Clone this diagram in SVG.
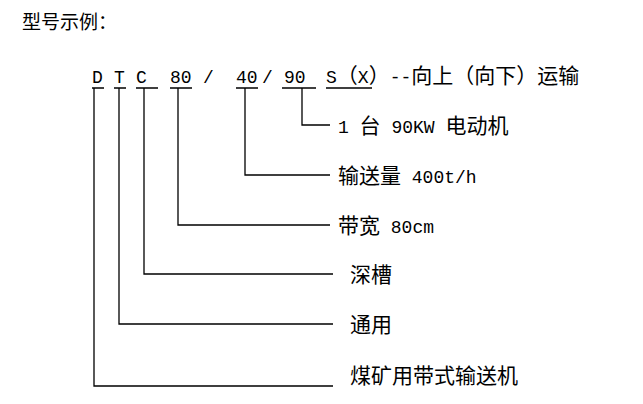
<svg xmlns="http://www.w3.org/2000/svg" width="643" height="404" viewBox="0 0 643 404">
<style>
text{font-family:"Liberation Mono","Noto Sans CJK SC",monospace;font-size:18px;fill:#000}
.c{font-size:21px}
.l{stroke:#000;stroke-width:1.3;fill:none}
</style>
<rect width="643" height="404" fill="#fff"/>
<g id="title"><text x="22" y="29" class="c" style="font-size:19px">型号示例：</text></g>
<g id="model">
<text x="92" y="83">D</text><text x="114" y="83">T</text><text x="136" y="83">C</text>
<text x="170" y="83">80</text><text x="203" y="83" fill="#999">/</text>
<text x="236" y="83">40</text><text x="262" y="83">/</text><text x="284" y="83">90</text>
<text x="326" y="83">S<tspan class="c">（</tspan>X<tspan class="c">）</tspan>--<tspan class="c">向上（向下）运输</tspan></text>
</g>
<g id="connectors" class="l">
<path d="M92 88h12M114 88h12M136 88h22M170 88h22M236 88h22M282 88h34M326 88h46"/>
<path d="M302 88V125H330"/>
<path d="M245 88V175H330"/>
<path d="M178 88V225H330"/>
<path d="M144 88V274H333"/>
<path d="M119 88V324H333"/>
<path d="M94 88V386H333"/>
</g>
<g id="labels">
<text x="338" y="133">1 <tspan class="c">台</tspan> 90KW <tspan class="c">电动机</tspan></text>
<text x="338" y="183"><tspan class="c">输送量</tspan> 400t/h</text>
<text x="338" y="233"><tspan class="c">带宽</tspan> 80cm</text>
<text x="350" y="282" class="c">深槽</text>
<text x="350" y="332" class="c">通用</text>
<text x="350" y="383" class="c">煤矿用带式输送机</text>
</g>
</svg>
